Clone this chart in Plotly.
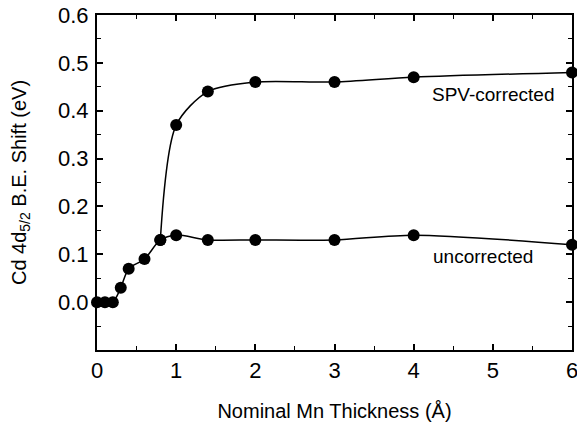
import plotly.graph_objects as go

unc_x = [0, 0.1, 0.2, 0.3, 0.4, 0.6, 0.8, 1.0, 1.4, 2, 3, 4, 6]
unc_y = [0.0, 0.0, 0.0, 0.03, 0.07, 0.09, 0.13, 0.14, 0.13, 0.13, 0.13, 0.14, 0.12]
spv_x = [0.8, 1.0, 1.4, 2, 3, 4, 6]
spv_y = [0.13, 0.37, 0.44, 0.46, 0.46, 0.47, 0.48]
x_ticks = [0, 1, 2, 3, 4, 5, 6]
y_ticks = [0.0, 0.1, 0.2, 0.3, 0.4, 0.5, 0.6]
y_tick_text = ["0.0", "0.1", "0.2", "0.3", "0.4", "0.5", "0.6"]

FONT = "Liberation Sans, Arial, sans-serif"
fig = go.Figure()
fig.add_trace(go.Scatter(x=spv_x, y=spv_y, mode="lines+markers",
                         line=dict(color="black", width=1.5, shape="spline", smoothing=0.8),
                         marker=dict(color="black", size=12), cliponaxis=False,
                         showlegend=False))
fig.add_trace(go.Scatter(x=unc_x, y=unc_y, mode="lines+markers",
                         line=dict(color="black", width=1.5, shape="spline", smoothing=0.8),
                         marker=dict(color="black", size=12), cliponaxis=False,
                         showlegend=False))

axis_common = dict(showline=True, linecolor="black", linewidth=2, mirror="ticks",
                   ticks="inside", ticklen=6, tickwidth=1.5, tickcolor="black",
                   showgrid=False, zeroline=False, ticklabeloverflow="allow",
                   tickfont=dict(family=FONT, size=22, color="black"))
fig.update_xaxes(range=[0, 6], tickvals=x_ticks,
                 minor=dict(dtick=0.5, ticks="inside", ticklen=4, tickwidth=1, tickcolor="black"),
                 title=dict(text="Nominal Mn Thickness (Å)", font=dict(family=FONT, size=20, color="black"),
                            standoff=22),
                 **axis_common)
fig.update_yaxes(range=[-0.1, 0.6], tickvals=y_ticks, ticktext=y_tick_text,
                 ticklabelstandoff=2,
                 minor=dict(dtick=0.05, ticks="inside", ticklen=4, tickwidth=1, tickcolor="black"),
                 title=dict(text="Cd 4d<sub>5/2</sub> B.E. Shift (eV)", font=dict(family=FONT, size=20, color="black"),
                            standoff=26),
                 **axis_common)

fig.add_annotation(x=5.01, y=0.433, text="SPV-corrected", showarrow=False,
                   font=dict(family=FONT, size=19, color="black"))
fig.add_annotation(x=4.87, y=0.096, text="uncorrected", showarrow=False,
                   font=dict(family=FONT, size=19, color="black"))

fig.update_layout(width=577, height=424, margin=dict(l=97, r=5, t=15, b=74, autoexpand=False),
                  paper_bgcolor="white", plot_bgcolor="white")
fig.write_html("out.html", config={"displayModeBar": False},
               post_script="document.body.style.margin='0';")
